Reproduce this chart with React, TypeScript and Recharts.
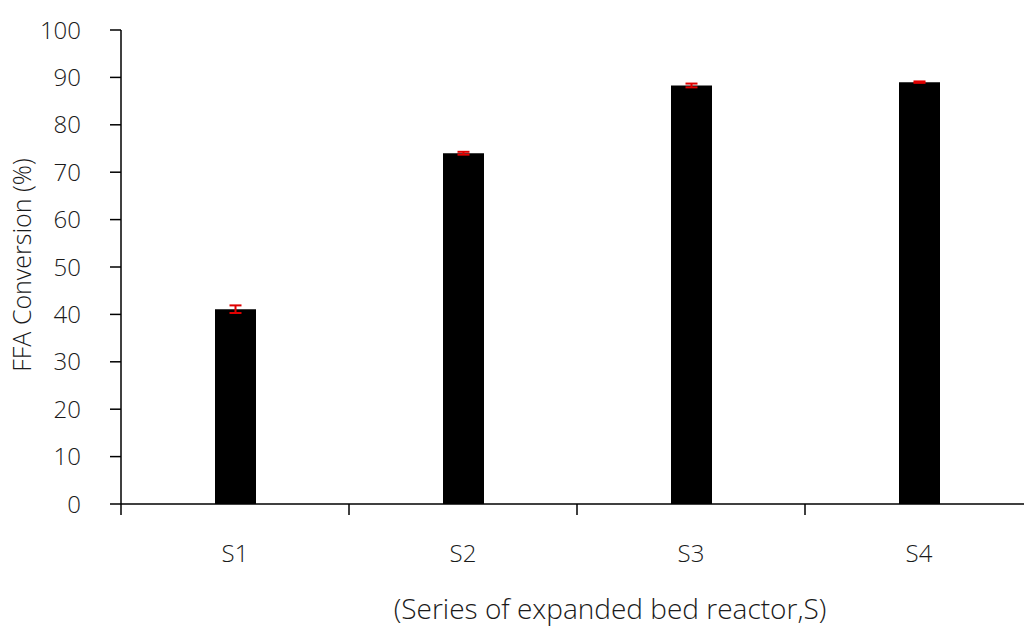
import { Bar, BarChart, ErrorBar, XAxis, YAxis, Label } from "recharts";

const series = ["S1", "S2", "S3", "S4"];
const conversion = [41.1, 74.0, 88.3, 89.0];
const errors = [0.8, 0.3, 0.4, 0.15];
const yTicks = [0, 10, 20, 30, 40, 50, 60, 70, 80, 90, 100];

const FONT = "'Open Sans', sans-serif";
const AXIS = "#000";
const TEXT = "#1a1a1a";
const BAND = 228; // category width, ticks sit on the band edges

const data = series.map((s, i) => ({ s, value: conversion[i], err: errors[i] }));

const EdgeTick = (props: any) => {
  const { x, y, payload } = props;
  const left = x - BAND / 2;
  return (
    <g>
      <line x1={left} y1={y} x2={left} y2={y + 11} stroke={AXIS} strokeWidth={1.5} />
      <text x={x} y={y + 41} dy="0.71em" textAnchor="middle" fontSize={24} fontWeight={300} fontFamily={FONT} fill={TEXT}>
        {payload.value}
      </text>
    </g>
  );
};

export default function App() {
  return (
    <div style={{ position: "absolute", left: 0, top: 0, width: 1024, height: 628, overflow: "hidden", background: "#fff" }}>
      <BarChart width={1033} height={628} data={data} margin={{ top: 30, right: 0, bottom: 0, left: 0 }}>
        <XAxis
          dataKey="s"
          height={124}
          stroke={AXIS}
          strokeWidth={1.5}
          tickLine={false}
          tickSize={0}
          tickMargin={0}
          tick={<EdgeTick />}
        >
          <Label
            content={() => (
              <text x={610} y={619} textAnchor="middle" fontSize={28} fontWeight={300} fontFamily={FONT} fill={TEXT}>
                (Series of expanded bed reactor,S)
              </text>
            )}
          />
        </XAxis>
        <YAxis
          width={121}
          domain={[0, 100]}
          ticks={yTicks}
          interval={0}
          stroke={AXIS}
          strokeWidth={1.5}
          tickSize={11}
          tickMargin={29}
          tick={{ fill: TEXT, fontSize: 24, fontWeight: 300, fontFamily: FONT }}
        >
          <Label
            content={() => (
              <text
                x={31}
                y={265}
                transform="rotate(-90 31 265)"
                textAnchor="middle"
                fontSize={25}
                fontWeight={300}
                fontFamily={FONT}
                fill={TEXT}
              >
                FFA Conversion (%)
              </text>
            )}
          />
        </YAxis>
        <Bar dataKey="value" fill="#000" barSize={41} isAnimationActive={false}>
          <ErrorBar dataKey="err" width={6} stroke="#e00000" strokeWidth={2} isAnimationActive={false} />
        </Bar>
      </BarChart>
    </div>
  );
}
